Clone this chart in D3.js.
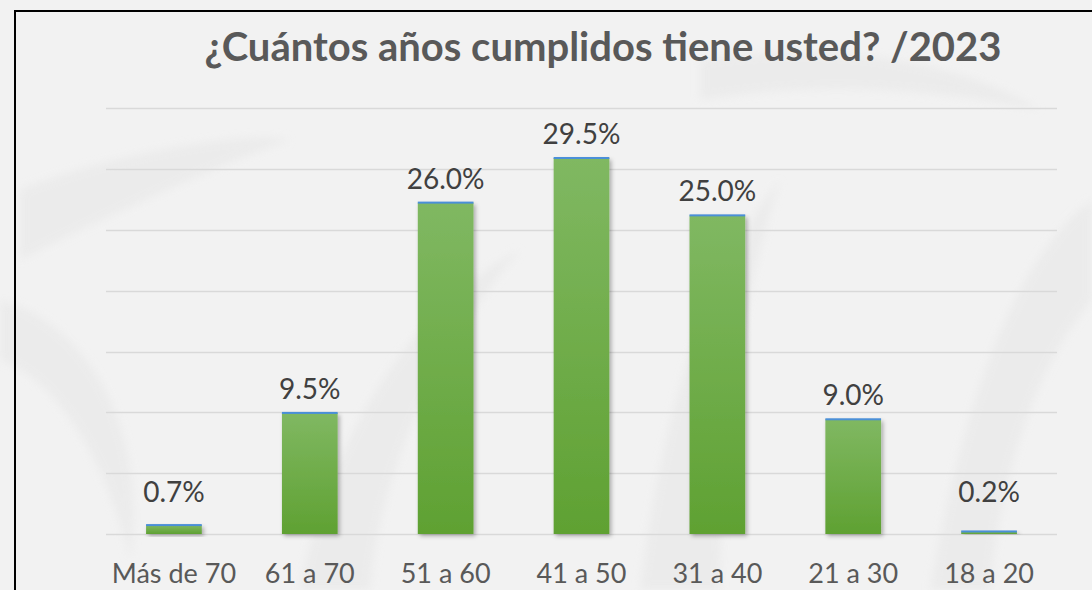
<!DOCTYPE html>
<html lang="es">
<head>
    <meta charset="UTF-8">
    <script src="https://d3js.org/d3.v7.min.js"></script>
    <title>¿Cuántos años cumplidos tiene usted? /2023</title>
    <style>
        body { margin: 0; background: #f2f2f2; }
        svg { display: block; }
    </style>
</head>
<body>
    <script>
        // Age groups and share of respondents (%)
        const categories = ["Más de 70", "61 a 70", "51 a 60", "41 a 50", "31 a 40", "21 a 30", "18 a 20"];
        const values = [0.7, 9.5, 26.0, 29.5, 25.0, 9.0, 0.2];
        const title = "¿Cuántos años cumplidos tiene usted? /2023";

        const width = 1092, height = 590;

        const svg = d3.select("body").append("svg")
            .attr("width", width)
            .attr("height", height);

        const defs = svg.append("defs");

        // bar gradient, lighter on top
        const grad = defs.append("linearGradient")
            .attr("id", "barGrad")
            .attr("x1", 0).attr("y1", 0).attr("x2", 0).attr("y2", 1);
        grad.append("stop").attr("offset", "0%").attr("stop-color", "#80b862");
        grad.append("stop").attr("offset", "100%").attr("stop-color", "#5fa132");

        const shadow = defs.append("filter")
            .attr("id", "shadow")
            .attr("x", "-20%").attr("y", "-20%")
            .attr("width", "150%").attr("height", "150%");
        shadow.append("feDropShadow")
            .attr("dx", 2).attr("dy", 2)
            .attr("stdDeviation", 2)
            .attr("flood-color", "#000")
            .attr("flood-opacity", 0.3);

        const blur = defs.append("filter").attr("id", "soft");
        blur.append("feGaussianBlur").attr("stdDeviation", 4);

        // background
        svg.append("rect")
            .attr("width", width).attr("height", height)
            .attr("fill", "#f2f2f2");

        // faint swirl decoration
        const deco = svg.append("g")
            .attr("fill", "#e6e6e6")
            .attr("opacity", 0.55)
            .attr("filter", "url(#soft)");
        deco.append("path").attr("d", "M20,190 C120,150 260,130 290,140 C230,160 120,210 20,260 Z");
        deco.append("path").attr("d", "M0,300 C80,320 150,420 130,560 C110,470 60,380 0,360 Z");
        deco.append("path").attr("d", "M300,590 C330,430 420,300 520,250 C450,330 380,460 370,590 Z");
        deco.append("path").attr("d", "M640,590 C660,430 700,280 780,180 C740,300 720,450 720,590 Z");
        deco.append("path").attr("d", "M930,590 C960,420 1010,260 1092,200 L1092,300 C1040,360 1000,470 990,590 Z");
        deco.append("path").attr("d", "M700,60 C820,40 960,60 1040,110 C940,90 820,80 700,100 Z");

        // frame
        svg.append("rect")
            .attr("x", 15).attr("y", 11)
            .attr("width", 1200).attr("height", 700)
            .attr("fill", "none")
            .attr("stroke", "#000")
            .attr("stroke-width", 2);

        const x = d3.scaleBand()
            .domain(categories)
            .range([106, 1057])
            .paddingInner(0.59)
            .paddingOuter(0.295);

        const yMax = 33.4;
        const y = d3.scaleLinear()
            .domain([0, yMax])
            .range([534, 108.3]);

        // 7 equal gridline intervals
        const gridValues = d3.range(8).map(i => i * yMax / 7);

        svg.append("g")
            .selectAll("line")
            .data(gridValues)
            .join("line")
            .attr("x1", 106).attr("x2", 1057)
            .attr("y1", d => Math.round(y(d)) + 0.5)
            .attr("y2", d => Math.round(y(d)) + 0.5)
            .attr("stroke", "#d9d9d9")
            .attr("stroke-width", 1.5);

        const bars = svg.append("g")
            .selectAll("g")
            .data(values)
            .join("g");

        bars.append("rect")
            .attr("x", (d, i) => x(categories[i]))
            .attr("y", d => y(d))
            .attr("width", x.bandwidth())
            .attr("height", d => y(0) - y(d))
            .attr("fill", "url(#barGrad)")
            .attr("filter", "url(#shadow)");

        // thin blue cap on each bar
        bars.append("rect")
            .attr("x", (d, i) => x(categories[i]))
            .attr("y", d => y(d) - 1)
            .attr("width", x.bandwidth())
            .attr("height", 2)
            .attr("fill", "#4a8fd8");

        // value labels
        svg.append("g")
            .selectAll("text")
            .data(values)
            .join("text")
            .attr("x", (d, i) => x(categories[i]) + x.bandwidth() / 2)
            .attr("y", d => y(Math.max(d, 1.4)) - 14)
            .attr("text-anchor", "middle")
            .attr("font-family", "Lato, sans-serif")
            .attr("font-size", 28)
            .attr("fill", "#404040")
            .text(d => d.toFixed(1) + "%");

        // category labels
        svg.append("g")
            .selectAll("text")
            .data(categories)
            .join("text")
            .attr("x", d => x(d) + x.bandwidth() / 2)
            .attr("y", 583)
            .attr("text-anchor", "middle")
            .attr("font-family", "Lato, sans-serif")
            .attr("font-size", 27)
            .attr("fill", "#595959")
            .text(d => d);

        svg.append("text")
            .attr("x", 603)
            .attr("y", 61)
            .attr("text-anchor", "middle")
            .attr("font-family", "Lato, sans-serif")
            .attr("font-weight", "bold")
            .attr("font-size", 40)
            .attr("fill", "#595959")
            .text(title);
    </script>
</body>
</html>
